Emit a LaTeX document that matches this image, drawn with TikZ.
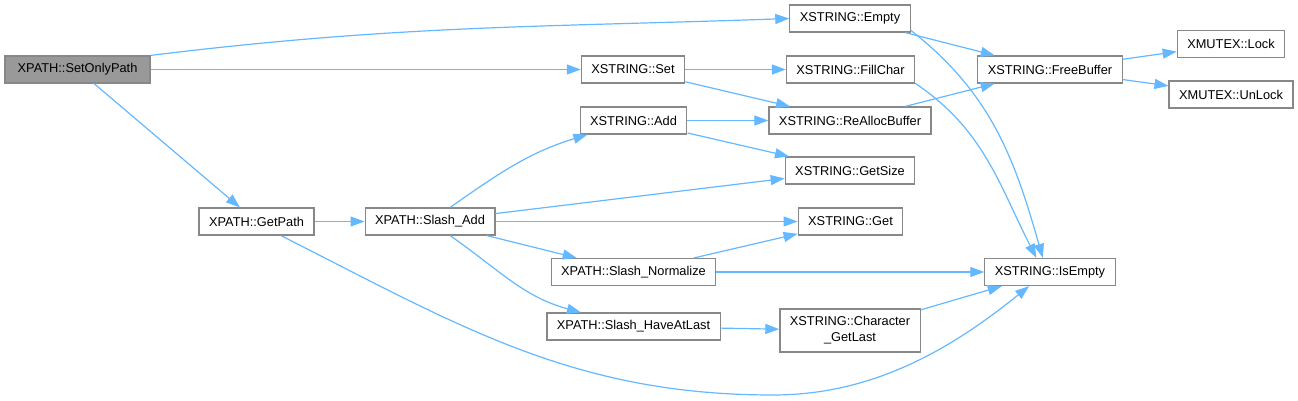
\documentclass[tikz,border=0pt]{standalone}
\usepackage{fontspec}
\setmainfont{Liberation Sans}
\usepackage{xcolor}
\usepackage{tikz}
\usetikzlibrary{arrows.meta, positioning}
\definecolor{edgeblue}{RGB}{99, 184, 255}
\definecolor{boxgray}{RGB}{136, 136, 136}
\definecolor{rootgray}{RGB}{153, 153, 153}

\begin{document}
\begin{tikzpicture}[x=1pt, y=-1pt,
			func/.style={rectangle, draw=boxgray, line width=1.2pt, fill=white, minimum height=27pt, inner xsep=10pt, align=center, font=\fontsize{12.8}{16}\selectfont},
			root/.style={func, fill=rootgray, minimum width=145pt},
			edge/.style={-{Triangle[length=14pt, width=10pt]}, edgeblue, line width=1.2pt}
		]
		\useasboundingbox (0,0) rectangle (1298,401);
		% callers on the left
		\node[root] (setonly) at (77.5,69.5) {XPATH::SetOnlyPath};
		\node[func] (getpath) at (256.5,221.5) {XPATH::GetPath};
		\node[func] (slashadd) at (430,221.5) {XPATH::Slash\_Add};
		% middle column
		\node[func] (set) at (633,69.5) {XSTRING::Set};
		\node[func] (add) at (633.5,120.5) {XSTRING::Add};
		\node[func] (normalize) at (633.5,272) {XPATH::Slash\_Normalize};
		\node[func] (haveatlast) at (633.5,326.5) {XPATH::Slash\_HaveAtLast};
		% XSTRING helpers
		\node[func] (empty) at (850,18.5) {XSTRING::Empty};
		\node[func] (fillchar) at (850.5,69.5) {XSTRING::FillChar};
		\node[func] (realloc) at (850,120.5) {XSTRING::ReAllocBuffer};
		\node[func] (getsize) at (850,170.5) {XSTRING::GetSize};
		\node[func] (get) at (850.5,221.5) {XSTRING::Get};
		\node[func, minimum height=43pt] (chargetlast) at (850,330.5) {XSTRING::Character\\\_GetLast};
		\node[func] (freebuffer) at (1050,69.5) {XSTRING::FreeBuffer};
		\node[func] (isempty) at (1050,272) {XSTRING::IsEmpty};
		\node[func] (lock) at (1231,44) {XMUTEX::Lock};
		\node[func] (unlock) at (1231,94.5) {XMUTEX::UnLock};
		\coordinate (low) at (773,395);

		\draw[edge] (setonly.north east) to[out=7, in=182] (empty.west);
		\draw[edge] (setonly) -- (set);
		\draw[edge] (setonly) -- (getpath);
		\draw[edge] (getpath) -- (slashadd);
		\draw[edge] (getpath.-30) .. controls +(178,90) and +(-200,0) .. (low)
			.. controls +(100,0) and +(-78,63) .. (isempty.214);
		\draw[edge] (slashadd) to[out=35, in=197] (add);
		\draw[edge] (slashadd) -- (getsize);
		\draw[edge] (slashadd) -- (get);
		\draw[edge] (slashadd) -- (normalize);
		\draw[edge] (slashadd) to[out=-35, in=165] (haveatlast);
		\draw[edge] (set) -- (fillchar);
		\draw[edge] (set) -- (realloc);
		\draw[edge] (add) -- (realloc);
		\draw[edge] (add) -- (getsize);
		\draw[edge] (normalize) -- (get);
		\draw[edge] (normalize) -- (isempty);
		\draw[edge] (haveatlast) -- (chargetlast);
		\draw[edge] (chargetlast) -- (isempty);
		\draw[edge] (empty) -- (freebuffer);
		\draw[edge] (empty.-11) to[out=-38, in=106] (isempty.117);
		\draw[edge] (fillchar.-12) to[out=-34, in=117] (isempty.134);
		\draw[edge] (realloc) -- (freebuffer);
		\draw[edge] (freebuffer) -- (lock);
		\draw[edge] (freebuffer) -- (unlock);
		\end{tikzpicture}
\end{document}
